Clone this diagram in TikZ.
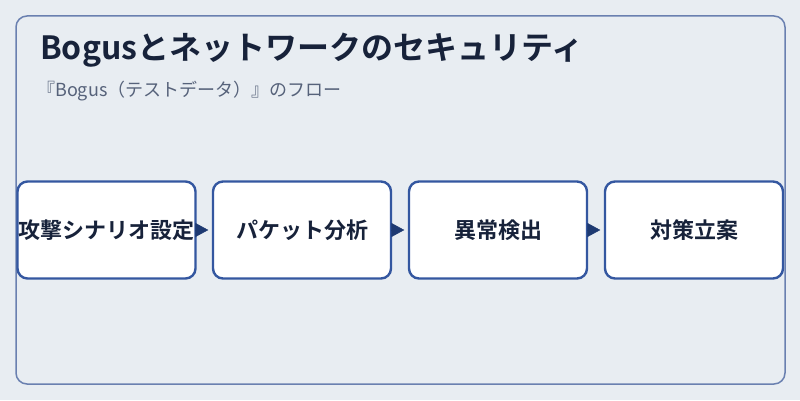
\documentclass[tikz,border=0pt]{standalone}
\usepackage{fontspec}
\newfontfamily\cjk{Noto Sans CJK JP}[BoldFont={Noto Sans CJK JP Bold}]
\usetikzlibrary{arrows.meta}
\definecolor{bg}{HTML}{E8EDF2}
\definecolor{frame}{HTML}{6A80B0}
\definecolor{boxline}{HTML}{3457A0}
\definecolor{ink}{HTML}{17223A}
\definecolor{sub}{HTML}{56627A}
\definecolor{arrowc}{HTML}{1E3A72}
\tikzset{
  stepbox/.style={draw=boxline, line width=2.4pt, fill=white, rounded corners=10pt,
    minimum width=178pt, minimum height=97pt, inner sep=0pt,
    font=\cjk\bfseries\fontsize{22pt}{26pt}\selectfont, text=ink},
  flow/.style={draw=arrowc, line width=0.5pt, -{Triangle[length=13pt,width=14pt]}, arrowc},
}
\begin{document}
\begin{tikzpicture}[x=1pt,y=1pt]
\useasboundingbox[fill=bg] (0,0) rectangle (800,400);
\draw[frame, line width=1.5pt, rounded corners=11pt] (16,16) rectangle (785,384);
\node[anchor=base west, inner sep=0pt, text=ink, font=\cjk\bfseries\fontsize{32pt}{36pt}\selectfont] (title) at (40,341) {Bogusとネットワークのセキュリティ};
\node[anchor=base west, inner sep=0pt, text=sub, font=\cjk\fontsize{18pt}{22pt}\selectfont] (subtitle) at (37,304) {『Bogus（テストデータ）』のフロー};
\node[stepbox] (s1) at (106.5,170) {攻撃シナリオ設定};
\node[stepbox] (s2) at (302,170) {パケット分析};
\node[stepbox] (s3) at (498,170) {異常検出};
\node[stepbox] (s4) at (694,170) {対策立案};
\foreach \a/\b in {s1/s2,s2/s3,s3/s4}{
  \draw[flow] ([xshift=1.2pt]\a.east) -- ([xshift=-3.5pt]\b.west);
}
\end{tikzpicture}
\end{document}
